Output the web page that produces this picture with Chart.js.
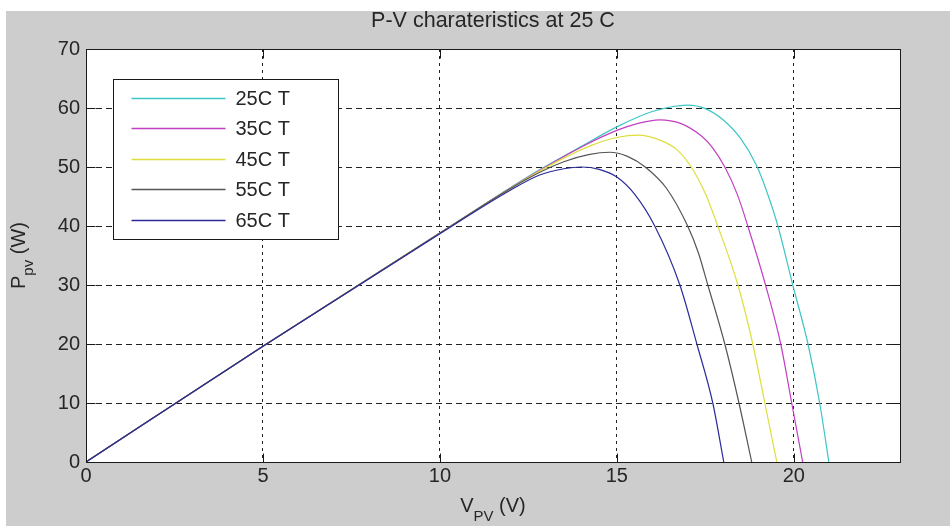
<!DOCTYPE html>
<html>
<head>
<meta charset="utf-8">
<title>P-V characteristics</title>
<script src="https://cdn.jsdelivr.net/npm/chart.js@4.4.1/dist/chart.umd.min.js"></script>
<style>
  html, body { margin: 0; padding: 0; background: #fff; }
  #wrap { width: 950px; height: 526px; }
</style>
</head>
<body>
<div id="wrap"><canvas id="pv" width="950" height="526"></canvas></div>
<script>
// series (voltage in V, power in W)
const chartTitle = 'P-V charateristics at 25 C';
const seriesLabels = ['25C T', '35C T', '45C T', '55C T', '65C T'];
const seriesColors = ['#3cc6c6', '#c23fc2', '#dede3c', '#555555', '#2b2b9a'];

const v25 = [0, 5, 10, 12.5, 14, 15, 16, 17, 17.5, 18, 18.5, 18.95, 19.25, 19.55, 19.97, 20.4, 20.73, 20.99];
const p25 = [0, 19.6, 38.8, 48.4, 53.5, 56.8, 59.4, 60.5, 59.9, 58.0, 54.8, 50.2, 45.6, 40, 30, 20, 10, 0];

const v35 = [0, 5, 10, 12.5, 14, 15, 15.6, 16.2, 16.8, 17.4, 17.7, 18.05, 18.4, 18.7, 19.2, 19.63, 19.94, 20.25];
const p35 = [0, 19.6, 38.8, 48.3, 53.4, 56.2, 57.4, 58.0, 57.4, 55.2, 53.3, 50, 45.4, 40, 30, 20, 10, 0];

const v45 = [0, 5, 10, 12.5, 13.5, 14.3, 15, 15.6, 16.2, 16.7, 17.1, 17.5, 17.85, 18.42, 18.84, 19.18, 19.52];
const p45 = [0, 19.6, 38.8, 48.2, 51.5, 53.7, 55.0, 55.4, 54.6, 52.9, 50, 45.5, 40, 30, 20, 10, 0];

const v55 = [0, 5, 10, 12.5, 13.5, 14.2, 14.8, 15.3, 15.8, 16.4, 17, 17.3, 17.57, 18.05, 18.45, 18.81];
const p55 = [0, 19.6, 38.8, 48.1, 50.9, 52.1, 52.5, 51.8, 50, 46.4, 40, 35.5, 30, 20, 10, 0];

const v65 = [0, 5, 10, 12, 12.8, 13.5, 14, 14.5, 15, 15.5, 16.07, 16.78, 17.26, 17.71, 18.02];
const p65 = [0, 19.6, 38.7, 46.1, 48.6, 49.7, 50.0, 49.6, 48.3, 45.4, 40, 30, 20, 10, 0];

const xTicks = [0, 5, 10, 15, 20];
const yTicks = [0, 10, 20, 30, 40, 50, 60, 70];

const FONT = "'Liberation Sans', Arial, sans-serif";
const TEXT = '#262626';

function toPoints(vs, ps) {
  return vs.map((v, i) => ({ x: v, y: ps[i] }));
}

const allV = [v25, v35, v45, v55, v65];
const allP = [p25, p35, p45, p55, p65];

const datasets = seriesLabels.map((label, i) => ({
  label: label,
  data: toPoints(allV[i], allP[i]),
  borderColor: seriesColors[i],
  backgroundColor: seriesColors[i],
  borderWidth: 1.2,
  pointRadius: 0,
  showLine: true,
  fill: false,
  cubicInterpolationMode: 'monotone',
  order: seriesLabels.length - i   // later curves on top, like matlab
}));

// gray figure, white axes
const backdrop = {
  id: 'backdrop',
  beforeDraw(chart) {
    const { ctx, chartArea: a, width, height } = chart;
    ctx.save();
    ctx.fillStyle = '#ffffff';
    ctx.fillRect(0, 0, width, height);
    ctx.fillStyle = '#cdcdcd';
    ctx.fillRect(6, 11, width - 6, height - 11);
    ctx.fillStyle = '#ffffff';
    ctx.fillRect(a.left, a.top, a.right - a.left, a.bottom - a.top);
    ctx.restore();
  }
};

// axes box, inner ticks, legend, title and axis labels with subscripts
const decorations = {
  id: 'decorations',
  afterDatasetsDraw(chart) {
    const { ctx, chartArea: a, scales } = chart;
    const L = Math.round(a.left) + 0.5, R = Math.round(a.right) + 0.5;
    const T = Math.round(a.top) + 0.5, B = Math.round(a.bottom) + 0.5;
    ctx.save();
    ctx.setLineDash([]);
    ctx.strokeStyle = '#1a1a1a';
    ctx.lineWidth = 1;

    // tick marks pointing inwards
    const tl = 9;
    ctx.beginPath();
    xTicks.forEach(v => {
      const x = Math.round(scales.x.getPixelForValue(v)) + 0.5;
      ctx.moveTo(x, B); ctx.lineTo(x, B - tl);
      ctx.moveTo(x, T); ctx.lineTo(x, T + tl);
    });
    yTicks.forEach(v => {
      const y = Math.round(scales.y.getPixelForValue(v)) + 0.5;
      ctx.moveTo(L, y); ctx.lineTo(L + tl, y);
      ctx.moveTo(R, y); ctx.lineTo(R - tl, y);
    });
    ctx.stroke();
    ctx.strokeRect(L, T, R - L, B - T);

    // legend box
    const lx = Math.round(a.left) + 27.5, ly = Math.round(a.top) + 30.5;
    const lw = 225, lh = 160;
    ctx.fillStyle = '#ffffff';
    ctx.fillRect(lx, ly, lw, lh);
    ctx.strokeStyle = '#1a1a1a';
    ctx.strokeRect(lx, ly, lw, lh);
    ctx.font = '20px ' + FONT;
    ctx.textBaseline = 'middle';
    ctx.textAlign = 'left';
    chart.data.datasets.forEach((ds, i) => {
      const y = Math.round(ly + 18 + i * 30.5) + 0.5;
      ctx.strokeStyle = ds.borderColor;
      ctx.lineWidth = 1.3;
      ctx.beginPath();
      ctx.moveTo(lx + 18, y);
      ctx.lineTo(lx + 112, y);
      ctx.stroke();
      ctx.fillStyle = TEXT;
      ctx.fillText(ds.label, lx + 122, y + 1);
    });

    // title, centred over the axes like matlab
    ctx.fillStyle = TEXT;
    ctx.textAlign = 'center';
    ctx.font = '21.5px ' + FONT;
    ctx.fillText(chartTitle, (a.left + a.right) / 2, 21);
    ctx.textAlign = 'left';

    // x axis label: V_PV (V)
    ctx.textBaseline = 'alphabetic';
    const big = '20px ' + FONT, small = '15px ' + FONT;
    ctx.font = big;
    const wV = ctx.measureText('V').width;
    const wU = ctx.measureText(' (V)').width;
    ctx.font = small;
    const wS = ctx.measureText('PV').width;
    let x0 = (a.left + a.right) / 2 - (wV + wS + wU) / 2;
    const yb = 512;
    ctx.font = big; ctx.fillText('V', x0, yb);
    ctx.font = small; ctx.fillText('PV', x0 + wV, yb + 9);
    ctx.font = big; ctx.fillText(' (V)', x0 + wV + wS, yb);

    // y axis label: P_pv (W), rotated
    ctx.save();
    ctx.translate(25, (a.top + a.bottom) / 2);
    ctx.rotate(-Math.PI / 2);
    ctx.font = big;
    const wP = ctx.measureText('P').width;
    const wW = ctx.measureText(' (W)').width;
    ctx.font = small;
    const wp = ctx.measureText('pv').width;
    x0 = -(wP + wp + wW) / 2;
    ctx.font = big; ctx.fillText('P', x0, 0);
    ctx.font = small; ctx.fillText('pv', x0 + wP, 8);
    ctx.font = big; ctx.fillText(' (W)', x0 + wP + wp, 0);
    ctx.restore();

    ctx.restore();
  }
};

new Chart(document.getElementById('pv'), {
  type: 'scatter',
  data: { datasets: datasets },
  options: {
    responsive: false,
    animation: false,
    layout: { padding: { left: 0, right: 50, top: 49, bottom: 0 } },
    plugins: {
      legend: { display: false },
      tooltip: { enabled: false },
      title: { display: false }
    },
    scales: {
      x: {
        type: 'linear',
        min: 0,
        max: 23,
        afterFit(scale) { scale.height = 64; },
        ticks: {
          stepSize: 5,
          includeBounds: false,
          color: TEXT,
          padding: 2,
          maxRotation: 0,
          font: { family: FONT, size: 20 }
        },
        grid: { color: '#222222', lineWidth: 1, drawTicks: false },
        border: { display: false, dash: [3, 4] }
      },
      y: {
        type: 'linear',
        min: 0,
        max: 70,
        afterFit(scale) { scale.width = 86; },
        ticks: {
          stepSize: 10,
          color: TEXT,
          padding: 6,
          font: { family: FONT, size: 20 }
        },
        grid: { color: '#222222', lineWidth: 1, drawTicks: false },
        border: { display: false, dash: [6, 4] }
      }
    }
  },
  plugins: [backdrop, decorations]
});
</script>
</body>
</html>
